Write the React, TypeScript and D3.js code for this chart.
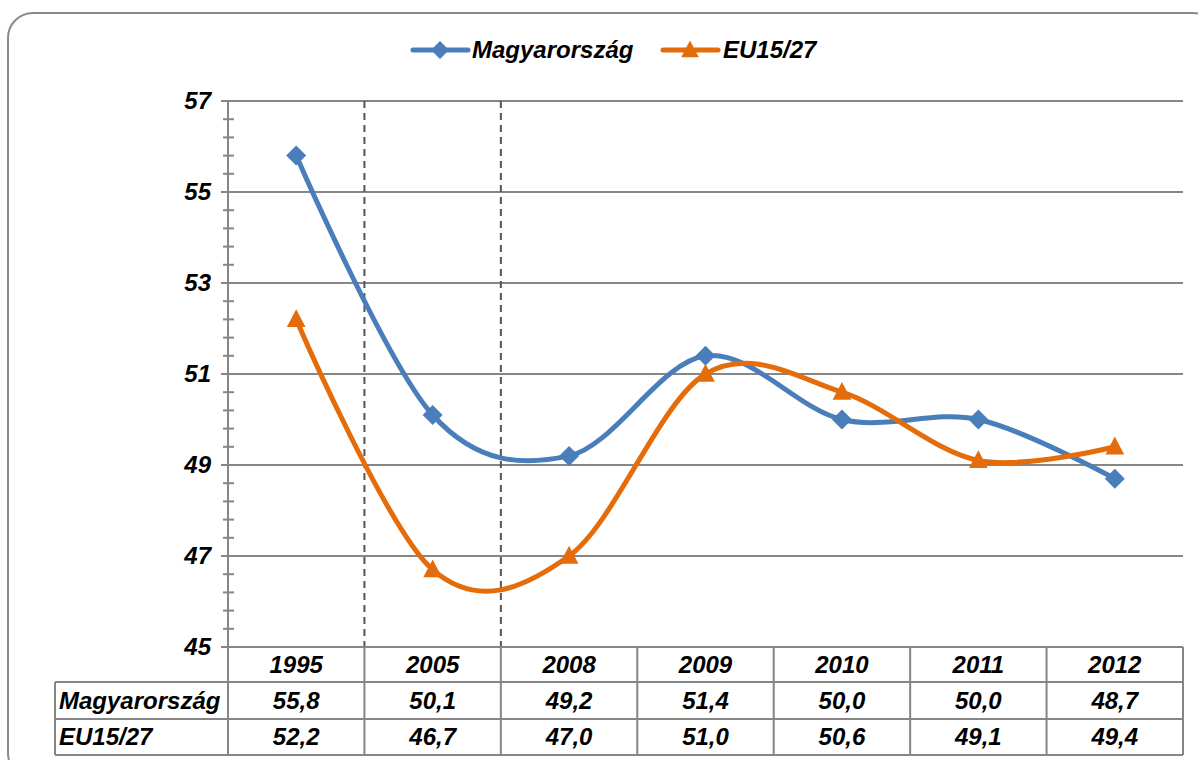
import React from "react";
import * as d3 from "d3";

const years = ["1995", "2005", "2008", "2009", "2010", "2011", "2012"];
const huValues = [55.8, 50.1, 49.2, 51.4, 50.0, 50.0, 48.7];
const euValues = [52.2, 46.7, 47.0, 51.0, 50.6, 49.1, 49.4];
const seriesNames = ["Magyarország", "EU15/27"];
const yTicks = [45, 47, 49, 51, 53, 55, 57];

const W = 1198;
const H = 760;
const FONT = "'Liberation Sans', Arial, sans-serif";
const BLUE = "#4A7EBB";
const ORANGE = "#E46C0A";
const GRID = "#868686";

const fmt = (v: number) => v.toFixed(1).replace(".", ",");

export default function App() {
  const left = 228;
  const right = 1183;
  const top = 101;
  const bottom = 647;
  const x = d3.scaleBand<string>().domain(years).range([left, right]);
  const y = d3.scaleLinear().domain([45, 57]).range([bottom, top]);
  const cx = (yr: string) => (x(yr) as number) + x.bandwidth() / 2;
  const line = d3
    .line<number>()
    .x((_, i) => cx(years[i]))
    .y((d) => y(d))
    .curve(d3.curveCardinal.tension(0));

  const minor: number[] = [];
  for (let v = 45; v < 57 - 1e-6; v += 0.4) minor.push(Math.round(v * 10) / 10);
  const minorTicks = minor.filter((v) => !yTicks.some((t) => Math.abs(t - v) < 1e-6));

  const rowTop = [647, 682, 719, 755];
  const labelLeft = 55;
  const boundaries = years.map((yr) => x(yr) as number).concat([right]);

  const diamond = (px: number, py: number, r: number) =>
    `M${px},${py - r}L${px + r},${py}L${px},${py + r}L${px - r},${py}Z`;
  const triangle = (px: number, py: number, s: number) =>
    `M${px},${py - s * 0.6}L${px + s * 0.55},${py + s * 0.45}L${px - s * 0.55},${py + s * 0.45}Z`;

  const textStyle = {
    fontFamily: FONT,
    fontWeight: 700,
    fontStyle: "italic" as const,
    fontSize: 24,
    fill: "#000",
  };

  return (
    <svg
      width={W}
      height={H}
      style={{ position: "absolute", left: 0, top: 0, background: "#fff" }}
    >
      <rect x={8} y={13} width={1210} height={765} rx={25} ry={25} fill="#fff" stroke="#8a8a8a" strokeWidth={2} />

      {/* Legend */}
      <g>
        <line x1={413} x2={468} y1={50} y2={50} stroke={BLUE} strokeWidth={5} strokeLinecap="round" />
        <path d={diamond(440, 50, 9)} fill={BLUE} />
        <text x={472} y={58} style={textStyle}>{seriesNames[0]}</text>
        <line x1={663} x2={718} y1={50} y2={50} stroke={ORANGE} strokeWidth={5} strokeLinecap="round" />
        <path d={triangle(690, 50, 16)} fill={ORANGE} />
        <text x={723} y={58} style={textStyle}>{seriesNames[1]}</text>
      </g>

      {/* Gridlines */}
      {yTicks.map((t) => (
        <line key={"g" + t} x1={221} x2={right} y1={y(t)} y2={y(t)} stroke={GRID} strokeWidth={2} />
      ))}
      {minorTicks.map((t) => (
        <line key={"m" + t} x1={223} x2={234} y1={y(t)} y2={y(t)} stroke={GRID} strokeWidth={2} />
      ))}
      <line x1={left} x2={left} y1={top} y2={bottom} stroke={GRID} strokeWidth={2} />
      {yTicks.map((t) => (
        <text key={"t" + t} x={211} y={y(t) + 8} textAnchor="end" style={textStyle}>
          {t}
        </text>
      ))}

      {/* Dashed separators */}
      {[years[1], years[2]].map((yr) => (
        <line
          key={"d" + yr}
          x1={x(yr) as number}
          x2={x(yr) as number}
          y1={top}
          y2={bottom}
          stroke="#555"
          strokeWidth={2}
          strokeDasharray="7,5"
        />
      ))}

      {/* Lines */}
      <path d={line(huValues) || ""} fill="none" stroke={BLUE} strokeWidth={5} />
      <path d={line(euValues) || ""} fill="none" stroke={ORANGE} strokeWidth={5} />
      {huValues.map((v, i) => (
        <path key={"hm" + i} d={diamond(cx(years[i]), y(v), 10)} fill={BLUE} />
      ))}
      {euValues.map((v, i) => (
        <path key={"em" + i} d={triangle(cx(years[i]), y(v), 17)} fill={ORANGE} />
      ))}

      {/* Data table */}
      <g stroke={GRID} strokeWidth={2}>
        <line x1={left} x2={right} y1={rowTop[0]} y2={rowTop[0]} />
        {rowTop.slice(1).map((ry) => (
          <line key={"r" + ry} x1={labelLeft} x2={right} y1={ry} y2={ry} />
        ))}
        <line x1={labelLeft} x2={labelLeft} y1={rowTop[1]} y2={rowTop[3]} />
        {boundaries.map((bx, i) => (
          <line key={"b" + i} x1={bx} x2={bx} y1={rowTop[0]} y2={rowTop[3]} />
        ))}
      </g>
      {years.map((yr) => (
        <text key={"y" + yr} x={cx(yr)} y={673} textAnchor="middle" style={textStyle}>
          {yr}
        </text>
      ))}
      <text x={59} y={709} style={textStyle}>{seriesNames[0]}</text>
      <text x={59} y={745} style={textStyle}>{seriesNames[1]}</text>
      {huValues.map((v, i) => (
        <text key={"hv" + i} x={cx(years[i])} y={709} textAnchor="middle" style={textStyle}>
          {fmt(v)}
        </text>
      ))}
      {euValues.map((v, i) => (
        <text key={"ev" + i} x={cx(years[i])} y={745} textAnchor="middle" style={textStyle}>
          {fmt(v)}
        </text>
      ))}
    </svg>
  );
}
